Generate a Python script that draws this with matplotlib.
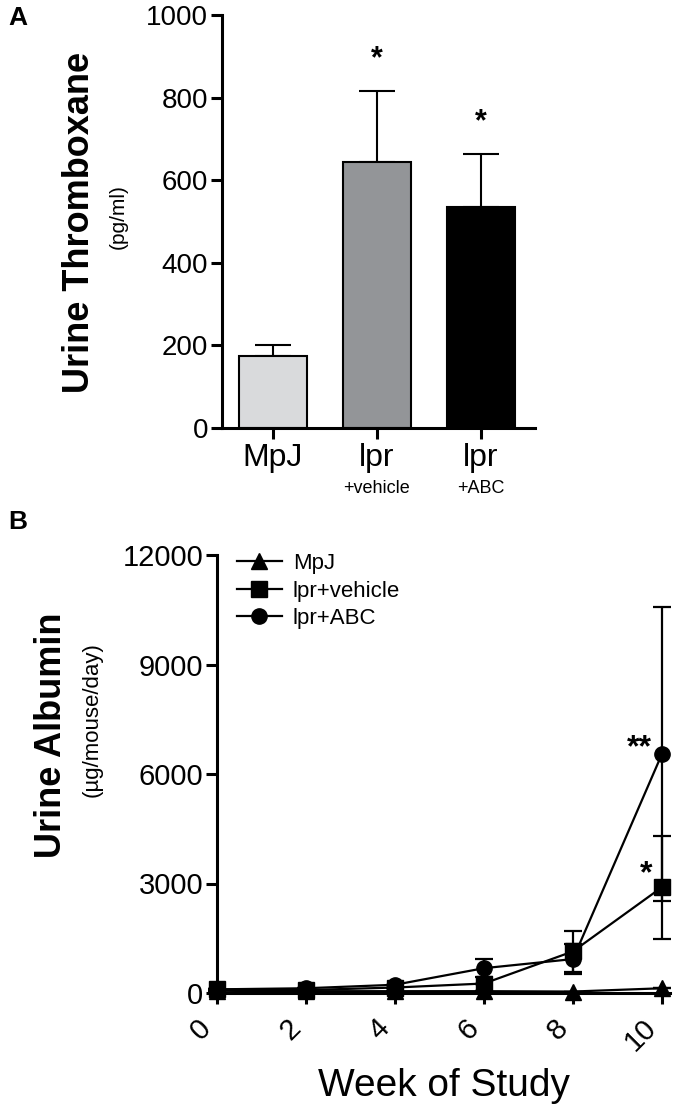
import matplotlib
matplotlib.use("Agg")
import matplotlib.pyplot as plt
from matplotlib.lines import Line2D
import numpy as np

plt.rcParams['font.family'] = ['Liberation Sans', 'DejaVu Sans']

# ---- Panel A data ----
groups_a = ['MpJ', 'lpr', 'lpr']
subs_a = ['', '+vehicle', '+ABC']
mean_a = [175, 645, 535]
sem_a = [25, 172, 128]
colors_a = ['#d9dadc', '#939598', '#000000']
stars_a = ['', '*', '*']
yticks_a = [0, 200, 400, 600, 800, 1000]

# ---- Panel B data ----
weeks = [0, 2, 4, 6, 8, 10]
series_names = ['MpJ', 'lpr+vehicle', 'lpr+ABC']
mpj = [60, 50, 50, 50, 40, 130]
mpj_err = [0, 0, 0, 0, 0, 0]
veh = [100, 80, 150, 260, 1140, 2900]
veh_err = [0, 0, 0, 0, 560, 1410]
abc = [100, 130, 226, 680, 930, 6550]
abc_err = [0, 0, 0, 250, 420, 4030]
yticks_b = [0, 3000, 6000, 9000, 12000]
xticks_b = [0, 2, 4, 6, 8, 10]

fig = plt.figure(figsize=(6.77, 11.14), dpi=100)

lw_ax = 2.2
# ---------------- Panel A ----------------
axA = fig.add_axes([222/677, 1-428/1114, (535-222)/677, (428-15)/1114])
xa = np.arange(len(mean_a))
axA.bar(xa, mean_a, width=0.66, color=colors_a, edgecolor='black', linewidth=1.5, zorder=2)
axA.errorbar(xa, mean_a, yerr=[np.zeros(3), sem_a], fmt='none', ecolor='black',
             elinewidth=1.5, capsize=13, capthick=1.5, zorder=1)
for x, m, s, st in zip(xa, mean_a, sem_a, stars_a):
    if st:
        axA.text(x, m + s + 40, st, ha='center', va='bottom', fontsize=22, fontweight='bold')
axA.set_xlim(-0.49, 2.52)
axA.set_ylim(0, 1000)
axA.set_yticks(yticks_a)
axA.set_xticks(xa)
axA.set_xticklabels(groups_a)
for x, s in zip(xa, subs_a):
    if s:
        axA.text(x, -0.125, s, transform=axA.get_xaxis_transform(), ha='center', va='top', fontsize=13)
for sp in ['top', 'right']:
    axA.spines[sp].set_visible(False)
for sp in ['left', 'bottom']:
    axA.spines[sp].set_linewidth(lw_ax)
axA.tick_params(axis='both', width=lw_ax, length=8, labelsize=20, pad=2)
axA.tick_params(axis='x', labelsize=23, pad=3)
fig.text(80/677, 1-222/1114, 'Urine Thromboxane', rotation=90, ha='center', va='center',
         fontsize=26, fontweight='bold')
fig.text(118/677, 1-217/1114, '(pg/ml)', rotation=90, ha='center', va='center', fontsize=15)
fig.text(8/677, 1-18/1114, 'A', ha='left', va='center', fontsize=19, fontweight='bold')

# ---------------- Panel B ----------------
axB = fig.add_axes([217/677, 1-993/1114, (670-217)/677, (993-555)/1114])
kw = dict(color='black', linewidth=1.6, markersize=11, elinewidth=1.6, capsize=6.5,
          capthick=1.6, clip_on=False)
markers = ['^', 's', 'o']
for vals, errs, mk, z in zip([mpj, veh, abc], [mpj_err, veh_err, abc_err], markers, [3, 4, 5]):
    axB.errorbar(weeks, vals, yerr=errs, marker=mk, zorder=z, **kw)
axB.text(weeks[-1] - 0.22, abc[-1] + 150, '**', ha='right', va='center', fontsize=23, fontweight='bold')
axB.text(weeks[-1] - 0.22, veh[-1] + 350, '*', ha='right', va='center', fontsize=23, fontweight='bold')
axB.set_xlim(0, 10.18)
axB.set_ylim(0, 12000)
axB.set_yticks(yticks_b)
axB.set_xticks(xticks_b)
axB.set_xticklabels([str(v) for v in xticks_b], rotation=45, ha='right', va='top')
for sp in ['top', 'right']:
    axB.spines[sp].set_visible(False)
for sp in ['left', 'bottom']:
    axB.spines[sp].set_linewidth(lw_ax)
axB.tick_params(axis='both', width=lw_ax, length=8, labelsize=21, pad=2)
axB.tick_params(axis='x', pad=7)
axB.set_xlabel('Week of Study', fontsize=28, labelpad=8)
handles = [Line2D([], [], color='black', linewidth=1.6, marker=mk, markersize=11) for mk in markers]
axB.legend(handles, series_names, loc='upper left', bbox_to_anchor=(0.025, 1.025), frameon=False,
           fontsize=16, handlelength=2.0, handletextpad=0.5, labelspacing=0.3, borderaxespad=0)
fig.text(52/677, 1-735/1114, 'Urine Albumin', rotation=90, ha='center', va='center',
         fontsize=26, fontweight='bold')
fig.text(92/677, 1-720/1114, '(\u00b5g/mouse/day)', rotation=90, ha='center', va='center', fontsize=16)
fig.text(8/677, 1-522/1114, 'B', ha='left', va='center', fontsize=19, fontweight='bold')

fig.savefig('out.png', dpi=100)
